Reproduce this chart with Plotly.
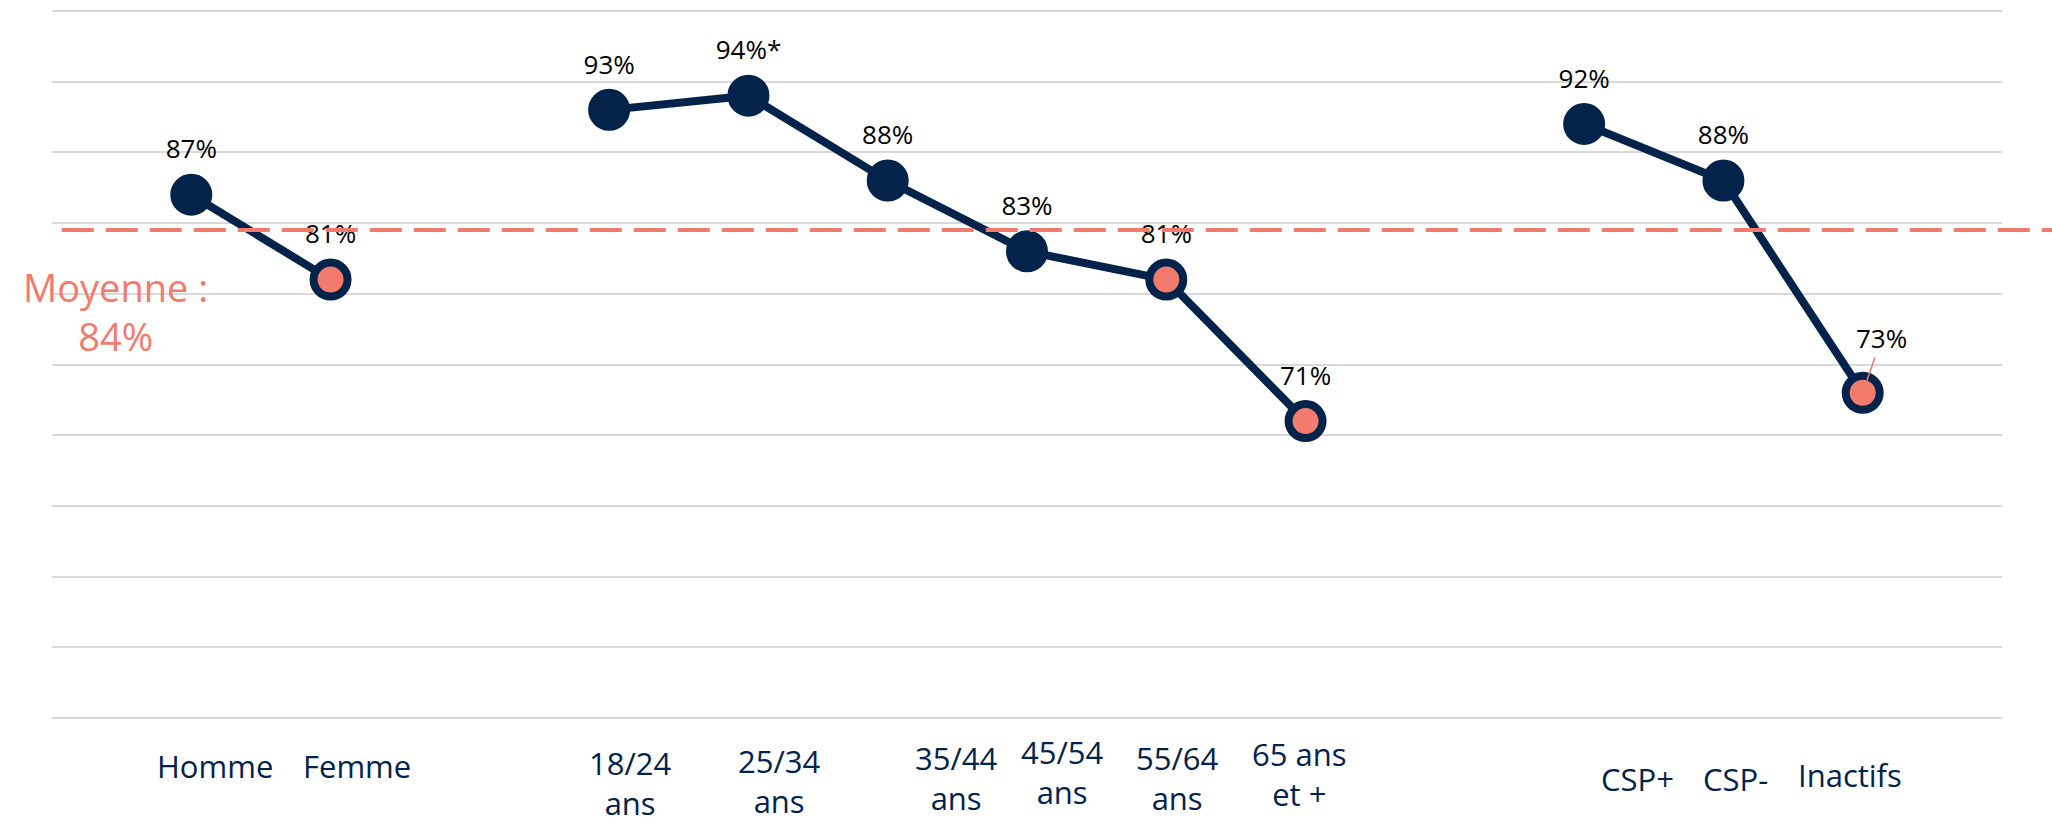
import plotly.graph_objects as go

# ---------------- data ----------------
cat_sexe = ["Homme", "Femme"]
val_sexe = [87, 81]
cat_age = ["18/24 ans", "25/34 ans", "35/44 ans", "45/54 ans", "55/64 ans", "65 ans et +"]
val_age = [93, 94, 88, 83, 81, 71]
cat_csp = ["CSP+", "CSP-", "Inactifs"]
val_csp = [92, 88, 73]

# points shown in salmon (significantly lower)
low_sexe = [False, True]
low_age = [False, False, False, False, True, True]
low_csp = [False, False, True]

# footnote marks on value labels
note_sexe = ["", ""]
note_age = ["", "*", "", "", "", ""]
note_csp = ["", "", ""]

# axis labels (display text)
tick_labels = {
    "Homme": "Homme", "Femme": "Femme",
    "18/24 ans": "18/24<br>ans", "25/34 ans": "25/34<br>ans", "35/44 ans": "35/44<br>ans",
    "45/54 ans": "45/54<br>ans", "55/64 ans": "55/64<br>ans", "65 ans et +": "65 ans<br>et +",
    "CSP+": "CSP+", "CSP-": "CSP-", "Inactifs": "Inactifs",
}

mean_value = 84.5
mean_text = "Moyenne :<br>84%"

# ---------------- styles ----------------
NAVY = "#03234B"
SALMON = "#F27B6E"
GRID = "#D9D9D9"
FONT = "Open Sans, sans-serif"

spacer1, spacer2 = " ", "  "
cat_order = cat_sexe + [spacer1] + cat_age + [spacer2] + cat_csp

# label offsets (px) relative to category position / bottom of plot
label_xshift = {"Homme": 24, "Femme": 26, "18/24 ans": 21, "25/34 ans": 31, "35/44 ans": 69,
                "45/54 ans": 35, "55/64 ans": 11, "65 ans et +": -6,
                "CSP+": 53, "CSP-": 12, "Inactifs": -13}
label_yshift = {"Homme": -45, "Femme": -45, "18/24 ans": -62, "25/34 ans": -60, "35/44 ans": -57,
                "45/54 ans": -51, "55/64 ans": -57, "65 ans et +": -53,
                "CSP+": -58, "CSP-": -58, "Inactifs": -54}
leader_points = {"Inactifs"}

fig = go.Figure()

series = [
    (cat_sexe, val_sexe, low_sexe, note_sexe),
    (cat_age, val_age, low_age, note_age),
    (cat_csp, val_csp, low_csp, note_csp),
]

for cats, vals, lows, notes in series:
    fig.add_trace(go.Scatter(
        x=cats, y=vals, mode="lines+markers",
        line=dict(color=NAVY, width=8),
        marker=dict(size=34, color=[SALMON if l else NAVY for l in lows],
                    line=dict(color=NAVY, width=8)),
        hoverinfo="skip", showlegend=False, cliponaxis=False,
    ))

for cats, vals, lows, notes in series:
    texts = ["" if c in leader_points else f"{v}%{n}" for c, v, n in zip(cats, vals, notes)]
    fig.add_trace(go.Scatter(
        x=cats, y=vals, mode="markers+text",
        marker=dict(size=46, color="rgba(0,0,0,0)"),
        text=texts, textposition="top center",
        textfont=dict(family=FONT, size=26, color="#000000"),
        hoverinfo="skip", showlegend=False, cliponaxis=False,
    ))

# value labels with leader line
for cats, vals, lows, notes in series:
    for c, v, n in zip(cats, vals, notes):
        if c in leader_points:
            fig.add_annotation(
                x=c, y=v, text=f"{v}%{n}", showarrow=True, arrowhead=0,
                arrowwidth=1.5, arrowcolor=SALMON, ax=19, ay=-55, standoff=13,
                font=dict(family=FONT, size=26, color="#000000"),
            )

# mean line
fig.add_shape(type="line", xref="paper", yref="y", x0=0.005, x1=1.03,
              y0=mean_value, y1=mean_value, layer="above",
              line=dict(color=SALMON, width=4, dash="32px,12px"))
fig.add_annotation(xref="paper", x=0, xshift=63, xanchor="center",
                   yref="y", y=mean_value, yshift=-81,
                   text=mean_text, showarrow=False, align="center",
                   font=dict(family=FONT, size=38, color=SALMON))

# category labels
for c in cat_sexe + cat_age + cat_csp:
    fig.add_annotation(x=c, yref="paper", y=0, yanchor="middle",
                       xshift=label_xshift[c], yshift=label_yshift[c],
                       text=tick_labels[c], showarrow=False, align="center",
                       font=dict(family=FONT, size=31, color=NAVY))

fig.update_layout(
    width=2052, height=825, autosize=False,
    margin=dict(l=52, r=50, t=8, b=104),
    plot_bgcolor="white", paper_bgcolor="white",
    xaxis=dict(type="category", categoryorder="array", categoryarray=cat_order,
               range=[-1, 13], showgrid=False, showticklabels=False,
               zeroline=False, showline=False, ticks=""),
    yaxis=dict(range=[49.8, 100.2], tick0=50, dtick=5, showgrid=True,
               gridcolor=GRID, gridwidth=2, showticklabels=False,
               zeroline=False, showline=False, ticks=""),
    font=dict(family=FONT),
)

fig.write_html("out.html", config={"displayModeBar": False},
               post_script="document.body.style.margin='0';")
